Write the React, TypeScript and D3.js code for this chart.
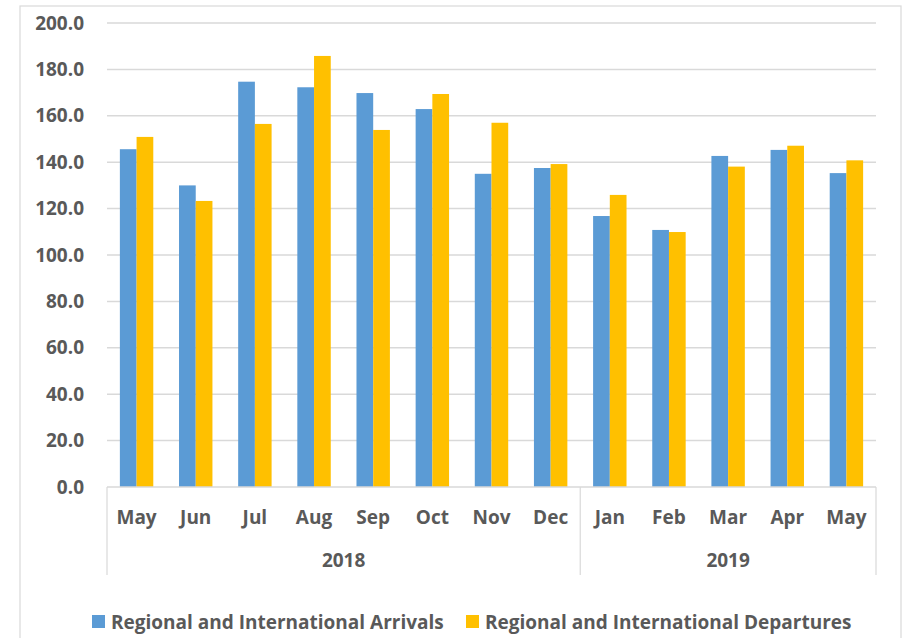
import * as d3 from "d3";
import { useEffect, useRef } from "react";

const months = ["May", "Jun", "Jul", "Aug", "Sep", "Oct", "Nov", "Dec", "Jan", "Feb", "Mar", "Apr", "May"];
const years = [
  { label: "2018", count: 8 },
  { label: "2019", count: 5 },
];
const arrivals = [145.6, 130.0, 174.7, 172.3, 169.8, 162.9, 135.0, 137.5, 116.8, 110.8, 142.7, 145.3, 135.3];
const departures = [150.9, 123.3, 156.5, 185.8, 153.9, 169.4, 157.0, 139.2, 125.9, 109.9, 138.1, 147.1, 140.8];
const seriesNames = ["Regional and International Arrivals", "Regional and International Departures"];
const colors = ["#5B9BD5", "#FFC000"];
const yTicks = [0, 20, 40, 60, 80, 100, 120, 140, 160, 180, 200];

const W = 905;
const H = 638;
const FONT = "'Open Sans', sans-serif";
const TXT = "#595959";
const FS = "19px";

const DrawChart = (element: any) => {
  d3.select(element).select("svg").remove();

  const svg = d3
    .select(element)
    .append("svg")
    .attr("width", W)
    .attr("height", H)
    .style("display", "block")
    .style("position", "absolute")
    .style("left", "0px")
    .style("top", "0px");

  svg.append("rect").attr("width", W).attr("height", H).attr("fill", "#fff");

  // chart frame
  svg
    .append("rect")
    .attr("x", 20)
    .attr("y", 6)
    .attr("width", 881)
    .attr("height", 640)
    .attr("fill", "none")
    .attr("stroke", "#d9d9d9")
    .attr("stroke-width", 1.2);

  const left = 107;
  const right = 876;
  const top = 23;
  const bottom = 487;

  const y = d3.scaleLinear().domain([0, 200]).range([bottom, top]);
  const idx = months.map((_, i) => i);
  const x = d3.scaleBand<number>().domain(idx).range([left, right]).paddingInner(0.435).paddingOuter(0.2175);
  const xs = d3.scaleBand<number>().domain([0, 1]).range([0, x.bandwidth()]);

  // gridlines
  svg
    .append("g")
    .selectAll("line")
    .data(yTicks.filter((t) => t > 0))
    .enter()
    .append("line")
    .attr("x1", left)
    .attr("x2", right)
    .attr("y1", (d) => y(d))
    .attr("y2", (d) => y(d))
    .attr("stroke", "#d9d9d9")
    .attr("stroke-width", 1.5);

  const label = (sel: any) =>
    sel
      .style("font-family", FONT)
      .style("font-weight", "bold")
      .style("font-size", FS)
      .style("fill", TXT);

  // y labels
  svg
    .append("g")
    .selectAll("text")
    .data(yTicks)
    .enter()
    .append("text")
    .attr("x", 84)
    .attr("y", (d) => y(d) + 6.5)
    .attr("text-anchor", "end")
    .call(label)
    .text((d) => d.toFixed(1));

  // bars
  const series = [arrivals, departures];
  series.forEach((vals, s) => {
    svg
      .append("g")
      .selectAll("rect")
      .data(vals)
      .enter()
      .append("rect")
      .attr("x", (_, i) => (x(i) as number) + (xs(s) as number))
      .attr("y", (d) => y(d))
      .attr("width", xs.bandwidth())
      .attr("height", (d) => bottom - y(d))
      .attr("fill", colors[s]);
  });

  // axis baseline
  svg
    .append("line")
    .attr("x1", left)
    .attr("x2", right)
    .attr("y1", bottom)
    .attr("y2", bottom)
    .attr("stroke", "#d9d9d9")
    .attr("stroke-width", 1.5);

  // month labels
  const step = x.step();
  svg
    .append("g")
    .selectAll("text")
    .data(months)
    .enter()
    .append("text")
    .attr("x", (_, i) => (x(i) as number) + x.bandwidth() / 2)
    .attr("y", 524)
    .attr("text-anchor", "middle")
    .call(label)
    .text((d) => d);

  // year groups
  let start = 0;
  const bounds: number[] = [left];
  years.forEach((yr) => {
    const x0 = left + start * step;
    const x1 = left + (start + yr.count) * step;
    bounds.push(x1);
    svg
      .append("text")
      .attr("x", (x0 + x1) / 2)
      .attr("y", 567)
      .attr("text-anchor", "middle")
      .call(label)
      .text(yr.label);
    start += yr.count;
  });

  svg
    .append("g")
    .selectAll("line")
    .data(bounds)
    .enter()
    .append("line")
    .attr("x1", (d) => d)
    .attr("x2", (d) => d)
    .attr("y1", bottom)
    .attr("y2", 575)
    .attr("stroke", "#d9d9d9")
    .attr("stroke-width", 1.2);

  // legend
  const legendX = [92, 466];
  seriesNames.forEach((name, s) => {
    const g = svg.append("g").attr("transform", `translate(${legendX[s]}, 622)`);
    g.append("rect").attr("x", 0).attr("y", -7).attr("width", 13).attr("height", 13).attr("fill", colors[s]);
    g.append("text").attr("x", 19).attr("y", 6.5).call(label).text(name);
  });
};

export default function App() {
  const ref = useRef<HTMLDivElement>(null);
  useEffect(() => {
    DrawChart(ref.current);
  }, []);
  return <div ref={ref} style={{ width: W, height: H }} />;
}
